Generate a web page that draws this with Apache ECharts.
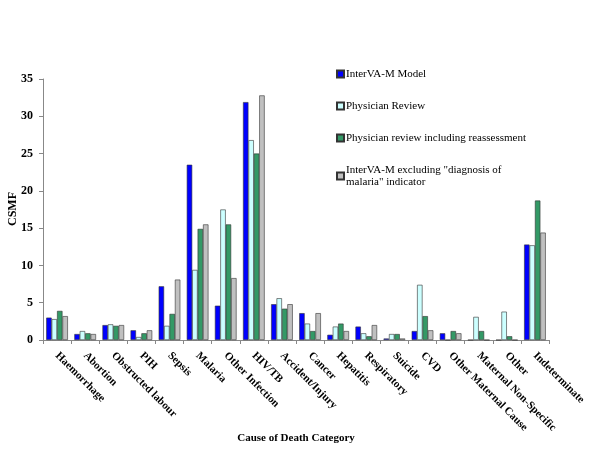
<!DOCTYPE html>
<html><head><meta charset="utf-8">
<script src="https://cdn.jsdelivr.net/npm/echarts@6/dist/echarts.min.js"></script>
<style>html,body{margin:0;padding:0;background:#fff}#c{width:600px;height:450px}</style>
</head><body><div id="c"></div>
<script>
const categories = ["Haemorrhage","Abortion","Obstructed labour","PIH","Sepsis","Malaria","Other Infection","HIV/TB","Accident/Injury","Cancer","Hepatitis","Respiratory","Suicide","CVD","Other Maternal Cause","Maternal Non-Specific","Other","Indeterminate"];
const interVA = [3.0,0.8,2.0,1.3,7.2,23.5,4.6,31.9,4.8,3.6,0.7,1.8,0.2,1.2,0.9,0,0,12.8];
const physician = [2.8,1.2,2.1,0.4,1.9,9.4,17.5,26.8,5.6,2.2,1.8,0.9,0.8,7.4,0,3.1,3.8,12.7];
const physicianReassess = [3.9,0.9,1.9,0.9,3.5,14.9,15.5,25.0,4.2,1.2,2.2,0.5,0.8,3.2,1.2,1.2,0.5,18.7];
const interVAExcl = [3.2,0.8,2.0,1.3,8.1,15.5,8.3,32.8,4.8,3.6,1.2,2.0,0.2,1.3,0.9,0,0,14.4];
const seriesNames = ["InterVA-M Model","Physician Review","Physician review including reassessment","InterVA-M excluding \"diagnosis of malaria\" indicator"];
const yTicks = [0,5,10,15,20,25,30,35];
const colors = ["#0000FF","#CCFFFF","#339966","#C0C0C0"];
const dataSets = [interVA, physician, physicianReassess, interVAExcl];
const yTitle = "CSMF";

const font = "Liberation Serif";
const chart = echarts.init(document.getElementById('c'), null, {renderer:'canvas'});
chart.setOption({
  animation:false,
  textStyle:{fontFamily:font},
  grid:{left:43,right:51,top:79,bottom:110,containLabel:false,outerBoundsMode:'none'},
  graphic:[{type:'text',x:13,y:209,rotation:Math.PI/2,
    style:{text:yTitle,font:'bold 12px "Liberation Serif"',fill:'#000',textAlign:'center',textVerticalAlign:'middle'}}],
  legend:{
    orient:'vertical', left:336, top:68, padding:0, itemWidth:7, itemHeight:7, itemGap:20,
    icon:'rect',
    textStyle:{fontFamily:font,fontSize:11,color:'#000',lineHeight:12,padding:[0,0,0,-3]},
    formatter:function(n){ return n.replace('"diagnosis of ','"diagnosis of\n'); },
    data:seriesNames
  },
  xAxis:{
    type:'category', data:categories,
    name:'Cause of Death Category', nameLocation:'middle', nameGap:93, nameMoveOverlap:false,
    nameTextStyle:{fontFamily:font,fontWeight:'bold',fontSize:11,color:'#000'},
    axisLine:{lineStyle:{color:'#888'}},
    axisTick:{show:true,alignWithLabel:false,length:4,lineStyle:{color:'#888'}},
    axisLabel:{rotate:-45,interval:0,fontFamily:font,fontWeight:'bold',fontSize:11,color:'#000',margin:14}
  },
  yAxis:{
    type:'value', min:0, max:35, interval:5,
    axisLine:{show:true,lineStyle:{color:'#888'}},
    axisTick:{show:true,length:4,lineStyle:{color:'#888'}},
    splitLine:{show:false},
    axisLabel:{fontFamily:font,fontWeight:'bold',fontSize:12,color:'#000',margin:10,
      formatter:function(v){return yTicks.indexOf(v)>=0?String(v):'';}}
  },
  series: seriesNames.map(function(n,i){
    return {name:n,type:'bar',data:dataSets[i],barGap:'0%',barCategoryGap:'23%',
      itemStyle:{color:colors[i],borderColor:'#333',borderWidth:0.6}};
  })
});
</script></body></html>
